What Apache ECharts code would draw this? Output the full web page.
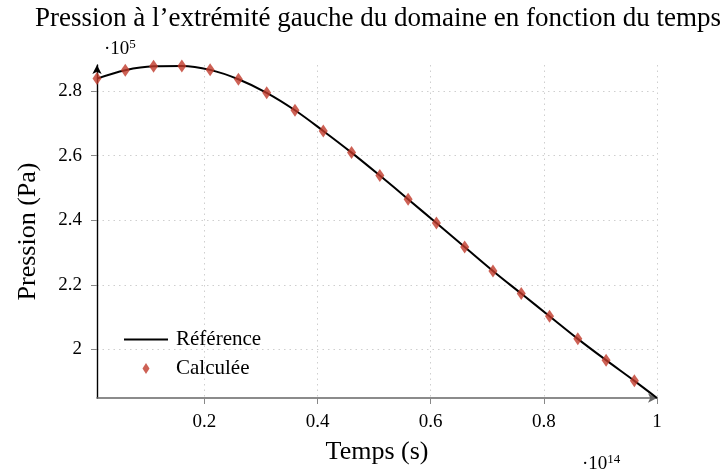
<!DOCTYPE html>
<html>
<head>
<meta charset="utf-8">
<script src="https://cdn.jsdelivr.net/npm/echarts@6/dist/echarts.min.js"></script>
<style>html,body{margin:0;padding:0;background:#fff}#c{width:722px;height:474px}</style>
</head>
<body>
<div id="c"></div>
<script>
// Computed ("Calculée") points, time in units of 1e14 s, pressure in units of 1e5 Pa
const calcTime = [0.01,0.06,0.11,0.16,0.21,0.26,0.31,0.36,0.41,0.46,0.51,0.56,0.61,0.66,0.71,0.76,0.81,0.86,0.91,0.96];
const calcPressure = [2.838,2.864,2.876,2.877,2.865,2.836,2.794,2.740,2.676,2.609,2.538,2.465,2.391,2.317,2.243,2.173,2.103,2.033,1.967,1.903];
// Reference curve samples
const refTime = [0.01,0.06,0.11,0.16,0.21,0.26,0.31,0.36,0.41,0.46,0.51,0.56,0.61,0.66,0.71,0.76,0.81,0.86,0.91,0.96,1.0];
const refPressure = [2.838,2.864,2.876,2.877,2.865,2.836,2.794,2.740,2.676,2.609,2.538,2.465,2.391,2.317,2.243,2.173,2.103,2.033,1.967,1.903,1.850];
const xTicks = [0.2,0.4,0.6,0.8,1];
const yTicks = [2,2.2,2.4,2.6,2.8];
const titleText = "Pression à l’extrémité gauche du domaine en fonction du temps";
const xName = "Temps (s)";
const yName = "Pression (Pa)";
const seriesNames = ["Référence","Calculée"];

const FONT = '"Liberation Serif", "DejaVu Serif", serif';
const chart = echarts.init(document.getElementById('c'), null, {renderer:'canvas'});
const fmt = v => String(Math.round(v*10)/10);
chart.setOption({
  animation:false,
  textStyle:{fontFamily:FONT,color:'#000'},
  title:{
    text:titleText,
    left:373, top:0, textAlign:'center',
    textStyle:{fontFamily:FONT,fontSize:27,fontWeight:'normal',color:'#000'}
  },
  grid:{left:97,right:65,top:65,bottom:76,containLabel:false},
  legend:{
    orient:'vertical', left:118, top:324,
    itemWidth:44, itemHeight:14, itemGap:8,
    textStyle:{fontFamily:FONT,fontSize:21,color:'#000',padding:[0,0,0,3]},
    data:[
      {name:seriesNames[0], itemStyle:{opacity:0}},
      {name:seriesNames[1], icon:'path://M0 0M44 14M22 1.5L25.5 7L22 12.5L18.5 7Z'}
    ]
  },
  xAxis:{
    type:'value', min:0.01, max:1,
    name:xName, nameLocation:'middle', nameGap:41,
    nameTextStyle:{fontFamily:FONT,fontSize:26,color:'#000'},
    axisLine:{show:true,onZero:false,lineStyle:{color:'#666',width:1.6},symbol:['none','arrow'],symbolSize:[7,9]},
    axisTick:{show:true,customValues:xTicks,length:6,lineStyle:{color:'#888'}},
    axisLabel:{customValues:xTicks,margin:15,fontFamily:FONT,fontSize:19,color:'#000',formatter:fmt},
    splitLine:{show:true,customValues:xTicks,lineStyle:{color:'#cfcfcf',type:[1.5,4],width:1}}
  },
  yAxis:{
    type:'value', min:1.85, max:2.88,
    name:yName, nameLocation:'middle', nameGap:56, nameRotate:90,
    nameTextStyle:{fontFamily:FONT,fontSize:26,color:'#000'},
    axisLine:{show:true,onZero:false,lineStyle:{color:'#000',width:1.4},symbol:['none','arrow'],symbolSize:[7,9]},
    axisTick:{show:true,customValues:yTicks,length:6,lineStyle:{color:'#888'}},
    axisLabel:{customValues:yTicks,margin:15,fontFamily:FONT,fontSize:19,color:'#000',formatter:fmt},
    splitLine:{show:true,customValues:yTicks,lineStyle:{color:'#cfcfcf',type:[1.5,4],width:1}}
  },
  graphic:[
    {type:'text',left:104,top:38,style:{text:'{a|·10}{b|5}',rich:{a:{fontFamily:FONT,fontSize:19,color:'#000'},b:{fontFamily:FONT,fontSize:13,color:'#000',padding:[0,0,9,0]}}}},
    {type:'text',left:582,top:453,style:{text:'{a|·10}{b|14}',rich:{a:{fontFamily:FONT,fontSize:19,color:'#000'},b:{fontFamily:FONT,fontSize:13,color:'#000',padding:[0,0,9,0]}}}}
  ],
  series:[
    {
      name:seriesNames[0], type:'line', smooth:0.35,
      data:refTime.map((t,i)=>[t,refPressure[i]]),
      showSymbol:false, symbol:'none',
      lineStyle:{color:'#000',width:2},
      itemStyle:{color:'#000'},
      z:2
    },
    {
      name:seriesNames[1], type:'scatter',
      data:calcTime.map((t,i)=>[t,calcPressure[i]]),
      symbol:'diamond', symbolSize:[9,13],
      itemStyle:{color:'#c0392b'},
      z:3
    }
  ]
});
</script>
</body>
</html>
